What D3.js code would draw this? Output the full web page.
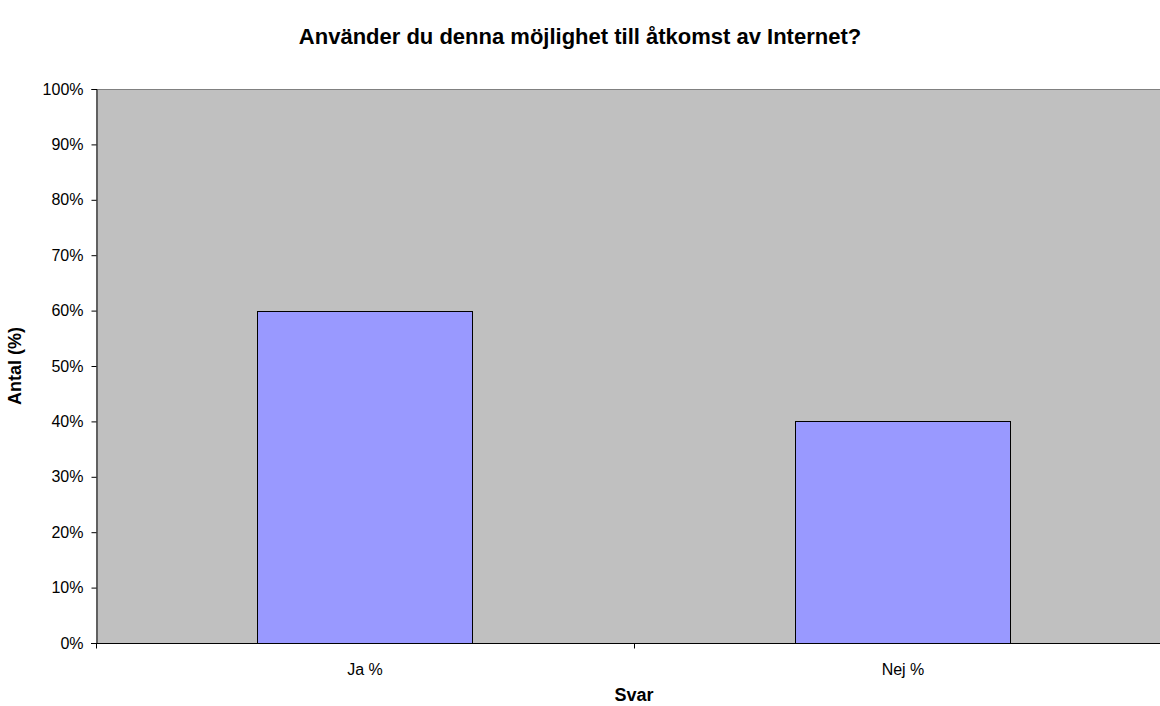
<!DOCTYPE html>
<html>
<head>
<meta charset="utf-8">
<script src="https://cdn.jsdelivr.net/npm/d3@7"></script>
<style>
html,body{margin:0;padding:0;background:#fff;overflow:hidden;}
svg{display:block;font-family:"Liberation Sans",Arial,sans-serif;}
</style>
</head>
<body>
<svg id="chart" width="1160" height="706"></svg>
<script>
const categories = ["Ja %", "Nej %"];
const values = [60, 40];
const yTicks = [0, 10, 20, 30, 40, 50, 60, 70, 80, 90, 100];
const titleText = "Använder du denna möjlighet till åtkomst av Internet?";
const xTitle = "Svar";
const yTitle = "Antal (%)";

(function () {
const svg = d3.select("#chart");
const pLeft = 96, pRight = 1172, pTop = 89, pBottom = 643;

const x = d3.scaleBand().domain(categories).range([pLeft, pRight]).paddingInner(0.6).paddingOuter(0.3);
const xGroup = d3.scaleBand().domain(categories).range([pLeft, pRight]).padding(0);
const y = d3.scaleLinear().domain([0, 100]).range([pBottom, pTop]);

// plot background
svg.append("rect").attr("x", pLeft).attr("y", pTop).attr("width", pRight - pLeft).attr("height", pBottom - pTop)
  .attr("fill", "#C0C0C0");
svg.append("line").attr("x1", pLeft).attr("x2", pRight).attr("y1", pTop + 0.5).attr("y2", pTop + 0.5)
  .attr("stroke", "#808080").attr("stroke-width", 1);

// bars
svg.selectAll("rect.bar").data(values).enter().append("rect").attr("class", "bar")
  .attr("x", (d, i) => Math.round(x(categories[i])) + 0.5)
  .attr("y", d => Math.round(y(d)) + 0.5)
  .attr("width", Math.round(x.bandwidth()))
  .attr("height", d => Math.round(y(0)) - Math.round(y(d)))
  .attr("fill", "#9999FF").attr("stroke", "#000").attr("stroke-width", 1);

// y axis
const yAxis = d3.axisLeft(y).tickValues(yTicks).tickFormat(d => d + "%").tickSize(5).tickPadding(8);
const gy = svg.append("g").attr("transform", `translate(${pLeft + 0.5},0)`).call(yAxis);
gy.select(".domain").attr("stroke", "#000");
gy.selectAll(".tick line").attr("stroke", "#000");
gy.selectAll("text").attr("font-size", 16).attr("fill", "#000").attr("font-family", "Liberation Sans, Arial, sans-serif");

// x axis
const gx = svg.append("g").attr("transform", `translate(0,${pBottom + 0.5})`);
gx.append("line").attr("x1", pLeft - 5).attr("x2", pRight).attr("stroke", "#000");
const boundaries = [pLeft, ...categories.slice(1).map(c => xGroup(c))];
gx.selectAll("line.tk").data(boundaries).enter().append("line").attr("class", "tk")
  .attr("x1", d => Math.round(d) + 0.5).attr("x2", d => Math.round(d) + 0.5).attr("y1", 0).attr("y2", 5)
  .attr("stroke", "#000");
gx.selectAll("text").data(categories).enter().append("text")
  .attr("x", d => xGroup(d) + xGroup.bandwidth() / 2)
  .attr("y", 31).attr("text-anchor", "middle").attr("font-size", 16).attr("fill", "#000")
  .text(d => d);

// titles
svg.append("text").attr("x", 580).attr("y", 44).attr("text-anchor", "middle")
  .attr("font-size", 22).attr("font-weight", "bold").text(titleText);
svg.append("text").attr("x", (pLeft + pRight) / 2).attr("y", 701).attr("text-anchor", "middle")
  .attr("font-size", 18).attr("font-weight", "bold").text(xTitle);
svg.append("text").attr("transform", `translate(21,${(pTop + pBottom) / 2}) rotate(-90)`)
  .attr("text-anchor", "middle").attr("font-size", 18).attr("font-weight", "bold").text(yTitle);
})();
</script>
</body>
</html>
